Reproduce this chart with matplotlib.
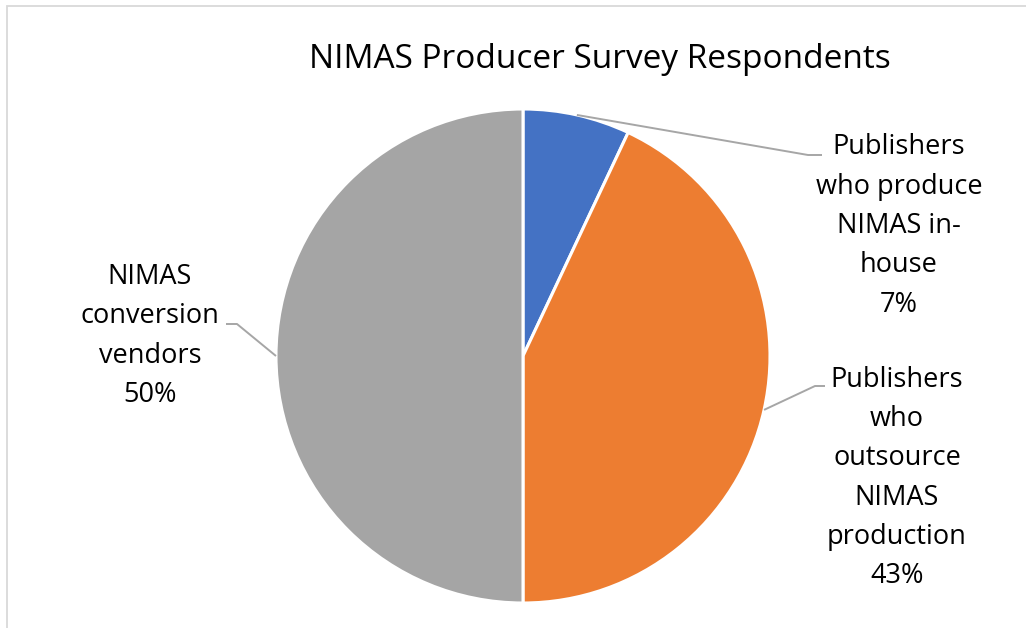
import matplotlib.pyplot as plt
from matplotlib.patches import Rectangle
import numpy as np

plt.rcParams['font.family'] = ['Open Sans', 'DejaVu Sans']

title = "NIMAS Producer Survey Respondents"
labels = ["Publishers\nwho produce\nNIMAS in-\nhouse",
          "Publishers\nwho\noutsource\nNIMAS\nproduction",
          "NIMAS\nconversion\nvendors"]
shares = [7, 43, 50]
colors = ["#4472C4", "#ED7D31", "#A5A5A5"]

# layout in pixels (reference image is 1026 x 628)
W, H = 1026, 628
cx, cy, R = 523, 356, 247

def to_data(px, py):
    return (px - cx) / R, (cy - py) / R

fig = plt.figure(figsize=(W / 100, H / 100), dpi=100)
ax = fig.add_axes([0, 0, 1, 1])

wedges, _ = ax.pie(shares, colors=colors, startangle=90, counterclock=False,
                   wedgeprops=dict(edgecolor="white", linewidth=2.2))
ax.set_xlim(-cx / R, (W - cx) / R)
ax.set_ylim(-(H - cy) / R, cy / R)
ax.set_aspect("equal")
ax.axis("off")

# label centres, elbow and end of leader line (pixels)
label_pos = [(899, 226), (897, 478), (150, 336)]
elbows = [((808, 155), (822, 155)),
          ((815, 386), (825, 386)),
          ((237, 324), (226, 324))]

for w, lab, s, (lx, ly), (e1, e2) in zip(wedges, labels, shares, label_pos, elbows):
    ang = np.deg2rad((w.theta1 + w.theta2) / 2)
    p0 = (np.cos(ang), np.sin(ang))
    p1 = to_data(*e1)
    p2 = to_data(*e2)
    ax.plot([p0[0], p1[0], p2[0]], [p0[1], p1[1], p2[1]], color="#A6A6A6", lw=1.4,
            solid_capstyle="butt")
    tx, ty = to_data(lx, ly)
    ax.text(tx, ty, f"{lab}\n{s}%", ha="center", va="center", fontsize=19.5,
            linespacing=1.54, color="black")

fig.text(600 / W, 1 - 60 / H, title, ha="center", va="center", fontsize=24, color="black")

fig.patches.append(Rectangle((6.5 / W, -0.1), 1.2, 1 - 6.5 / H + 0.1, transform=fig.transFigure,
                             fill=False, edgecolor="#D9D9D9", lw=1.3))

fig.savefig("out.png", dpi=100)
